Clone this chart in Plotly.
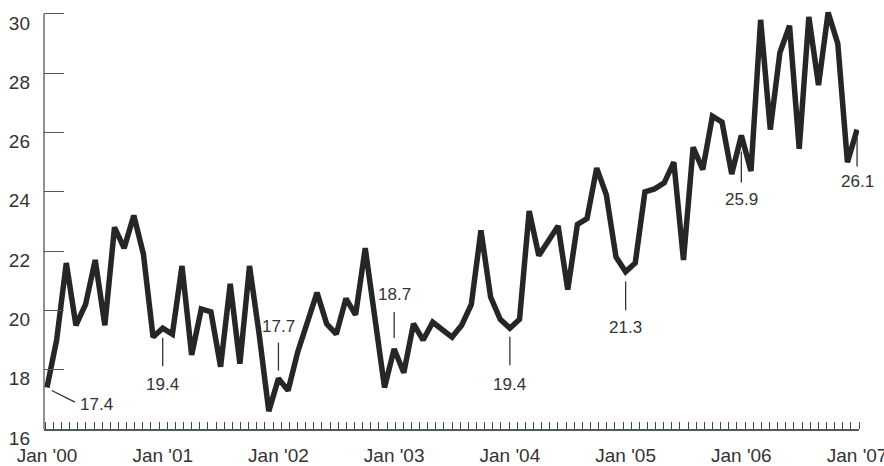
import plotly.graph_objects as go

# ---- data ----
year_labels = ["Jan '00", "Jan '01", "Jan '02", "Jan '03", "Jan '04", "Jan '05", "Jan '06", "Jan '07"]
values = [
    17.4, 19.0, 21.6, 19.5, 20.2, 21.7, 19.5, 22.8, 22.1, 23.2, 21.9, 19.1,   # 2000
    19.4, 19.2, 21.5, 18.5, 20.05, 19.95, 18.1, 20.9, 18.2, 21.5, 19.2, 16.6,  # 2001
    17.7, 17.3, 18.6, 19.6, 20.6, 19.55, 19.2, 20.4, 19.85, 22.1, 19.8, 17.4,  # 2002
    18.7, 17.9, 19.55, 19.0, 19.6, 19.33, 19.1, 19.5, 20.2, 22.7, 20.45, 19.7, # 2003
    19.4, 19.7, 23.35, 21.85, 22.35, 22.85, 20.7, 22.9, 23.1, 24.8, 23.9, 21.8,# 2004
    21.3, 21.6, 24.0, 24.1, 24.3, 25.0, 21.7, 25.5, 24.75, 26.55, 26.35, 24.6, # 2005
    25.9, 24.7, 29.8, 26.1, 28.7, 29.6, 25.45, 29.9, 27.6, 30.05, 29.0, 25.0,  # 2006
    26.1,                                                                      # Jan 2007
]
month_index = list(range(len(values)))
year_ticks = [12 * i for i in range(len(year_labels))]
labelled_months = [0, 12, 24, 36, 48, 60, 72, 84]
y_ticks = [16, 18, 20, 22, 24, 26, 28, 30]

# ---- label placement (pixel offsets from the point; positive = up) ----
placement = {
    0:  dict(l0=(4.7, -3), l1=(28, -14.7), t=(31, -17.5), xa="left"),
    12: dict(l0=(0, -9.5), l1=(0, -38), t=(0, -56.5), xa="center"),
    24: dict(l0=(0, 8), l1=(0, 36), t=(0, 52), xa="center"),
    36: dict(l0=(0, 11), l1=(0, 37), t=(0, 54), xa="center"),
    48: dict(l0=(0, -8.5), l1=(0, -37), t=(0, -56.5), xa="center"),
    60: dict(l0=(0, -9.5), l1=(0, -38.5), t=(0, -56), xa="center"),
    72: dict(l0=(0, -16), l1=(0, -47), t=(0, -64), xa="center"),
    84: dict(l0=(0, -8.5), l1=(0, -37), t=(0, -52), xa="center"),
}

INK = "#262626"
TXT = "#333333"
FONT = "Liberation Sans, Arial, Helvetica, sans-serif"

fig = go.Figure()
fig.add_trace(go.Scatter(
    x=month_index, y=values, mode="lines",
    line=dict(color=INK, width=5.5),
    hoverinfo="skip", showlegend=False,
))

shapes = [
    # vertical value axis line from 16 to 30
    dict(type="line", xref="paper", yref="y", x0=0, x1=0, y0=y_ticks[0], y1=y_ticks[-1],
         line=dict(color="#555555", width=1.3)),
]
annotations = []
for m in labelled_months:
    p = placement[m]
    v = values[m]
    shapes.append(dict(
        type="line", xref="x", yref="y", xsizemode="pixel", ysizemode="pixel",
        xanchor=m, yanchor=v,
        x0=p["l0"][0], y0=p["l0"][1], x1=p["l1"][0], y1=p["l1"][1],
        line=dict(color=TXT, width=1.3),
    ))
    annotations.append(dict(
        x=m, y=v, xref="x", yref="y", text=f"{v:.1f}", showarrow=False,
        xshift=p["t"][0], yshift=p["t"][1], xanchor=p["xa"], yanchor="middle",
        font=dict(family=FONT, size=17, color=TXT),
    ))

fig.update_layout(
    width=884, height=466,
    margin=dict(l=44, r=25, t=8, b=37, autoexpand=False),
    paper_bgcolor="white", plot_bgcolor="white",
    shapes=shapes, annotations=annotations,
    xaxis=dict(
        range=[-0.31, 84.2],
        tickmode="array", tickvals=year_ticks, ticktext=year_labels,
        ticks="", showgrid=False, zeroline=False,
        showline=True, linecolor="#4f5a66", linewidth=1.5,
        tickfont=dict(family=FONT, size=19, color=TXT),
        ticklabelstandoff=8, ticklabeloverflow="allow",
        minor=dict(tickmode="linear", tick0=-0.187, dtick=0.8439,
                   ticks="inside", ticklen=7, tickwidth=1.2, tickcolor="#444444",
                   showgrid=False),
        automargin=False,
    ),
    yaxis=dict(
        range=[16, 30.2],
        tickmode="array", tickvals=y_ticks,
        ticks="inside", ticklen=20, tickwidth=1.2, tickcolor="#555555",
        showgrid=False, zeroline=False, showline=False,
        tickfont=dict(family=FONT, size=19, color=TXT),
        ticklabelstandoff=13, ticklabelshift=9, ticklabeloverflow="allow",
        automargin=False,
    ),
)

fig.write_html(
    "out.html",
    config={"displayModeBar": False},
    post_script="document.body.style.margin='0';document.body.style.overflow='hidden';",
)
